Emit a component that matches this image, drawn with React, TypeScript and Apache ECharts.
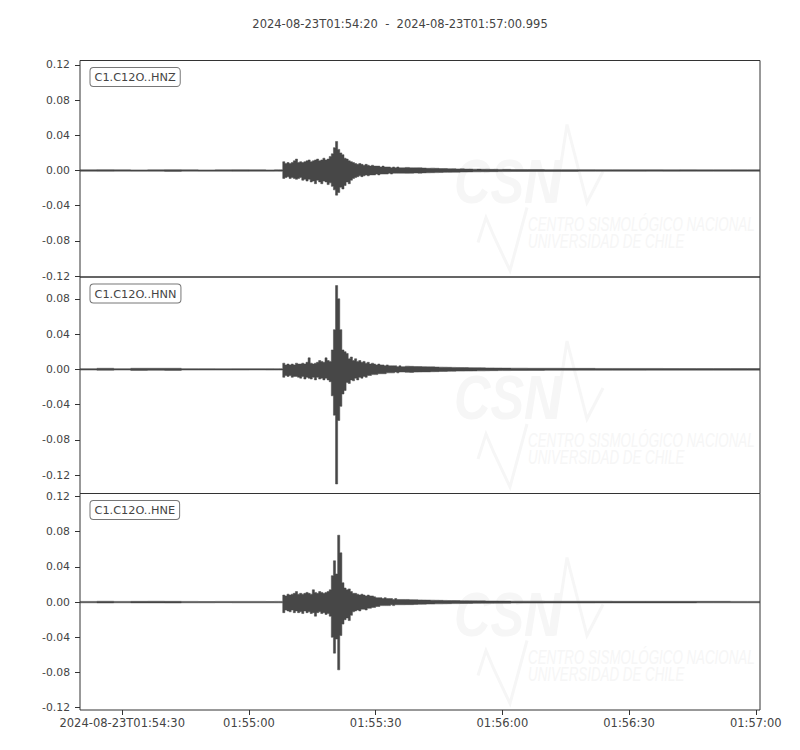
import React, { useEffect, useRef } from "react";
import * as echarts from "echarts";

// Time of each envelope bin, seconds after 2024-08-23T01:54:00
const TIME_S = [
  20, 24, 28, 32, 36, 40, 44, 48, 52, 56, 60, 64, 66, 67, 67.5,
  68, 68.5, 69, 69.5, 70, 70.5, 71, 71.5, 72, 72.5, 73, 73.5, 74, 74.5, 75, 75.5,
  76, 76.5, 77, 77.5, 78, 78.5, 79, 79.5, 80, 80.5, 81, 81.5, 82, 82.5, 83, 83.5,
  84, 84.5, 85, 85.5, 86, 86.5, 87, 87.5, 88, 88.5, 89, 89.5, 90, 90.5, 91, 91.5,
  92, 92.5, 93, 93.5, 94, 94.5, 95, 95.5, 96,
  97, 98, 99, 100, 101, 102, 103, 104, 105, 106, 107, 108, 109, 110, 111, 112,
  113, 114, 115, 116, 117, 118, 119, 120,
  122, 126, 130, 134, 138, 142, 146, 150, 154, 158, 162, 166, 170, 174, 178, 181,
];

// HNZ envelope (max / min per bin)
const HNZ_MAX = [
  0.0008, 0.001, 0.0008, 0.0007, 0.0008, 0.001, 0.0008, 0.0007, 0.0008, 0.0009, 0.0008, 0.0007, 0.0008, 0.0008, 0.0008,
  0.010, 0.008, 0.009, 0.008, 0.009, 0.011, 0.013, 0.009, 0.010, 0.009, 0.010, 0.011, 0.012, 0.010, 0.011, 0.012,
  0.013, 0.011, 0.012, 0.014, 0.012, 0.013, 0.016, 0.019, 0.026, 0.033, 0.024, 0.020, 0.018, 0.014, 0.013, 0.011,
  0.010, 0.009, 0.008, 0.007, 0.008, 0.007, 0.006, 0.007, 0.006, 0.005, 0.006, 0.005, 0.005, 0.005, 0.004, 0.005,
  0.004, 0.004, 0.004, 0.003, 0.004, 0.003, 0.004, 0.003, 0.003,
  0.0035, 0.003, 0.003, 0.0031, 0.0028, 0.0025, 0.0027, 0.0025, 0.0022, 0.0023, 0.002, 0.0021, 0.0018, 0.0019, 0.0016, 0.0017,
  0.0015, 0.0016, 0.0014, 0.0015, 0.0013, 0.0014, 0.0012, 0.0013,
  0.0011, 0.0011, 0.001, 0.001, 0.001, 0.0009, 0.0009, 0.0009, 0.0009, 0.0008, 0.0009, 0.0008, 0.0008, 0.0008, 0.0008, 0.0008,
];
const HNZ_MIN = [
  -0.0008, -0.0009, -0.0007, -0.0008, -0.0008, -0.001, -0.0007, -0.0008, -0.0008, -0.0009, -0.0008, -0.0008, -0.0007, -0.0008, -0.0008,
  -0.009, -0.008, -0.007, -0.009, -0.008, -0.009, -0.010, -0.009, -0.008, -0.011, -0.010, -0.012, -0.010, -0.013, -0.012, -0.015,
  -0.011, -0.013, -0.015, -0.012, -0.013, -0.016, -0.014, -0.018, -0.022, -0.028, -0.025, -0.019, -0.021, -0.017, -0.013, -0.015,
  -0.011, -0.009, -0.008, -0.007, -0.006, -0.007, -0.006, -0.005, -0.006, -0.005, -0.005, -0.005, -0.004, -0.005, -0.004, -0.004,
  -0.004, -0.004, -0.003, -0.004, -0.003, -0.003, -0.003, -0.003, -0.003,
  -0.0032, -0.0031, -0.0028, -0.003, -0.0027, -0.0026, -0.0025, -0.0024, -0.0023, -0.0021, -0.0021, -0.0019, -0.0019, -0.0017, -0.0017, -0.0016,
  -0.0015, -0.0015, -0.0014, -0.0014, -0.0013, -0.0013, -0.0012, -0.0012,
  -0.0011, -0.001, -0.001, -0.001, -0.0009, -0.0009, -0.0009, -0.0009, -0.0008, -0.0009, -0.0008, -0.0008, -0.0008, -0.0008, -0.0008, -0.0008,
];

// HNN envelope
const HNN_MAX = [
  0.0008, 0.0012, 0.0008, 0.0012, 0.0012, 0.0012, 0.0008, 0.0008, 0.0007, 0.0008, 0.0008, 0.0008, 0.0007, 0.0008, 0.0008,
  0.007, 0.005, 0.006, 0.005, 0.006, 0.005, 0.007, 0.006, 0.006, 0.007, 0.006, 0.008, 0.013, 0.007, 0.006, 0.007,
  0.008, 0.010, 0.009, 0.008, 0.013, 0.010, 0.009, 0.022, 0.045, 0.095, 0.080, 0.045, 0.022, 0.020, 0.018, 0.012,
  0.014, 0.010, 0.012, 0.009, 0.010, 0.008, 0.009, 0.007, 0.008, 0.006, 0.007, 0.006, 0.005, 0.006, 0.005, 0.005,
  0.004, 0.005, 0.004, 0.004, 0.004, 0.004, 0.003, 0.004, 0.003,
  0.0036, 0.0034, 0.0032, 0.0031, 0.003, 0.0028, 0.0028, 0.0026, 0.0025, 0.0024, 0.0023, 0.0022, 0.0021, 0.002, 0.002, 0.0019,
  0.0018, 0.0018, 0.0017, 0.0016, 0.0016, 0.0015, 0.0015, 0.0014,
  0.0013, 0.0012, 0.0012, 0.0011, 0.0011, 0.001, 0.001, 0.001, 0.001, 0.0009, 0.0009, 0.0009, 0.0009, 0.0009, 0.0009, 0.0009,
];
const HNN_MIN = [
  -0.0008, -0.0011, -0.0008, -0.0012, -0.0011, -0.0012, -0.0008, -0.0008, -0.0008, -0.0008, -0.0007, -0.0008, -0.0008, -0.0008, -0.0008,
  -0.009, -0.007, -0.008, -0.007, -0.009, -0.008, -0.008, -0.009, -0.010, -0.008, -0.011, -0.009, -0.010, -0.011, -0.009, -0.012,
  -0.009, -0.011, -0.010, -0.012, -0.010, -0.012, -0.014, -0.030, -0.052, -0.130, -0.058, -0.042, -0.028, -0.024, -0.015, -0.016,
  -0.012, -0.013, -0.010, -0.012, -0.009, -0.010, -0.008, -0.009, -0.007, -0.007, -0.006, -0.006, -0.006, -0.005, -0.005, -0.005,
  -0.005, -0.004, -0.004, -0.004, -0.004, -0.003, -0.004, -0.003, -0.003,
  -0.0034, -0.0035, -0.0031, -0.003, -0.0029, -0.0029, -0.0027, -0.0026, -0.0024, -0.0024, -0.0022, -0.0022, -0.002, -0.002, -0.0019, -0.0019,
  -0.0018, -0.0017, -0.0017, -0.0016, -0.0015, -0.0015, -0.0014, -0.0014,
  -0.0013, -0.0012, -0.0011, -0.0011, -0.001, -0.001, -0.001, -0.001, -0.0009, -0.0009, -0.0009, -0.0009, -0.0009, -0.0009, -0.0009, -0.0009,
];

// HNE envelope
const HNE_MAX = [
  0.0008, 0.001, 0.0008, 0.0009, 0.001, 0.0009, 0.0008, 0.0007, 0.0008, 0.0008, 0.0008, 0.0007, 0.0008, 0.0008, 0.0008,
  0.008, 0.007, 0.009, 0.008, 0.009, 0.010, 0.012, 0.009, 0.010, 0.009, 0.010, 0.011, 0.010, 0.009, 0.014, 0.011,
  0.010, 0.012, 0.011, 0.010, 0.011, 0.012, 0.014, 0.030, 0.047, 0.032, 0.076, 0.056, 0.022, 0.016, 0.014, 0.015,
  0.012, 0.010, 0.010, 0.009, 0.008, 0.009, 0.008, 0.007, 0.008, 0.007, 0.007, 0.006, 0.005, 0.005, 0.005, 0.004,
  0.005, 0.004, 0.004, 0.004, 0.003, 0.004, 0.003, 0.003, 0.003,
  0.003, 0.0028, 0.0027, 0.0025, 0.0024, 0.0023, 0.0022, 0.0021, 0.002, 0.0019, 0.0018, 0.0018, 0.0017, 0.0016, 0.0016, 0.0015,
  0.0015, 0.0014, 0.0014, 0.0013, 0.0013, 0.0013, 0.0012, 0.0012,
  0.0011, 0.0011, 0.001, 0.001, 0.001, 0.001, 0.0009, 0.0009, 0.0009, 0.0009, 0.0009, 0.0009, 0.0009, 0.0008, 0.0008, 0.0008,
];
const HNE_MIN = [
  -0.0008, -0.001, -0.0008, -0.0009, -0.0009, -0.001, -0.0008, -0.0008, -0.0007, -0.0008, -0.0008, -0.0008, -0.0008, -0.0008, -0.0008,
  -0.012, -0.009, -0.010, -0.011, -0.009, -0.012, -0.010, -0.012, -0.011, -0.013, -0.010, -0.012, -0.011, -0.013, -0.012, -0.016,
  -0.012, -0.011, -0.013, -0.012, -0.014, -0.013, -0.016, -0.040, -0.058, -0.042, -0.077, -0.038, -0.025, -0.020, -0.018, -0.021,
  -0.015, -0.011, -0.010, -0.009, -0.010, -0.008, -0.008, -0.009, -0.007, -0.007, -0.006, -0.006, -0.005, -0.005, -0.004, -0.004,
  -0.004, -0.004, -0.004, -0.003, -0.004, -0.003, -0.003, -0.003, -0.003,
  -0.0029, -0.0029, -0.0026, -0.0025, -0.0024, -0.0022, -0.0022, -0.002, -0.002, -0.0019, -0.0018, -0.0017, -0.0017, -0.0016, -0.0015, -0.0015,
  -0.0014, -0.0014, -0.0013, -0.0013, -0.0013, -0.0012, -0.0012, -0.0012,
  -0.0011, -0.0011, -0.001, -0.001, -0.001, -0.0009, -0.0009, -0.0009, -0.0009, -0.0009, -0.0009, -0.0008, -0.0008, -0.0008, -0.0008, -0.0008,
];

const CHANNELS = ["C1.C12O..HNZ", "C1.C12O..HNN", "C1.C12O..HNE"];
const TITLE = "2024-08-23T01:54:20  -  2024-08-23T01:57:00.995";

const X_MIN = 20;
const X_MAX = 180.995;
const X_TICKS = [30, 60, 90, 120, 150, 180];
const X_TICK_LABELS = ["2024-08-23T01:54:30", "01:55:00", "01:55:30", "01:56:00", "01:56:30", "01:57:00"];

const Y_LIMITS = [
  [-0.121, 0.125],
  [-0.1408, 0.1047],
  [-0.1226, 0.1234],
];
const Y_TICKS = [
  [-0.12, -0.08, -0.04, 0, 0.04, 0.08, 0.12],
  [-0.12, -0.08, -0.04, 0, 0.04, 0.08],
  [-0.12, -0.08, -0.04, 0, 0.04, 0.08, 0.12],
];

const PANEL_TOP = [60.5, 277, 493.5];
const PANEL_H = 216.5;
const LEFT = 80;
const RIGHT = 40;

const TEXT = "#444444";
const SPINE = "#333333";
const WAVE = "#474747";
const WM = "#f6f6f6";
const FONT = "'DejaVu Sans', sans-serif";
const WM_FONT = "'Liberation Sans', Arial, sans-serif";

function watermark(top: number) {
  return {
    type: "group",
    x: 0,
    y: top,
    silent: true,
    z: 0,
    children: [
      {
        type: "text",
        z: 0,
        x: 454,
        y: 120,
        scaleX: 0.8,
        style: {
          text: "CSN",
          x: 0,
          y: 0,
          verticalAlign: "middle",
          font: `italic bold 63px ${WM_FONT}`,
          fill: WM,
        },
      },
      {
        type: "polyline",
        z: 0,
        shape: { points: [[555, 142], [567, 64], [587, 142], [603, 111]] },
        style: { stroke: WM, lineWidth: 3, fill: "none" },
      },
      {
        type: "polyline",
        z: 0,
        shape: { points: [[478, 182], [486, 157], [494, 176], [510, 210], [527, 147]] },
        style: { stroke: WM, lineWidth: 3, fill: "none" },
      },
      {
        type: "text",
        z: 0,
        x: 528,
        y: 164,
        scaleX: 0.667,
        style: {
          text: "CENTRO SISMOLÓGICO NACIONAL",
          x: 0,
          y: 0,
          verticalAlign: "middle",
          font: `italic 20px ${WM_FONT}`,
          fill: WM,
        },
      },
      {
        type: "text",
        z: 0,
        x: 528,
        y: 181,
        scaleX: 0.667,
        style: {
          text: "UNIVERSIDAD DE CHILE",
          x: 0,
          y: 0,
          verticalAlign: "middle",
          font: `italic 20px ${WM_FONT}`,
          fill: WM,
        },
      },
    ],
  };
}

function labelBox(top: number, text: string) {
  return {
    type: "text",
    z: 20,
    silent: true,
    style: {
      text,
      x: 90.5,
      y: top + 7.5,
      font: `11.3px ${FONT}`,
      fill: TEXT,
      backgroundColor: "#ffffff",
      borderColor: "#777777",
      borderWidth: 1,
      borderRadius: 3,
      padding: [3, 4, 2, 4],
      lineHeight: 13,
    },
  };
}

export default function App() {
  const ref = useRef<HTMLDivElement>(null);

  useEffect(() => {
    if (!ref.current) return;
    const chart = echarts.init(ref.current, undefined, { renderer: "svg" });

    const envelopes = [
      [HNZ_MAX, HNZ_MIN],
      [HNN_MAX, HNN_MIN],
      [HNE_MAX, HNE_MIN],
    ];

    const grids = PANEL_TOP.map((top) => ({
      left: LEFT,
      right: RIGHT,
      top,
      height: PANEL_H,
      show: true,
      borderColor: SPINE,
      borderWidth: 1,
      backgroundColor: "transparent",
      containLabel: false,
    }));

    const xAxes = PANEL_TOP.map((_, i) => {
      const last = i === PANEL_TOP.length - 1;
      return {
        type: "value",
        gridIndex: i,
        min: X_MIN,
        max: X_MAX,
        position: "bottom",
        axisLine: { show: false, onZero: false },
        splitLine: { show: false },
        axisTick: {
          show: last,
          customValues: X_TICKS,
          length: 5,
          lineStyle: { color: SPINE, width: 1 },
        },
        axisLabel: {
          show: last,
          customValues: X_TICKS,
          formatter: (v: number) => {
            const k = X_TICKS.indexOf(v);
            return k >= 0 ? X_TICK_LABELS[k] : "";
          },
          color: TEXT,
          fontSize: 11.5,
          fontFamily: FONT,
          margin: 7,
        },
      };
    });

    const yAxes = PANEL_TOP.map((_, i) => ({
      type: "value",
      gridIndex: i,
      min: Y_LIMITS[i][0],
      max: Y_LIMITS[i][1],
      position: "left",
      axisLine: { show: false, onZero: false },
      splitLine: { show: false },
      axisTick: {
        show: true,
        customValues: Y_TICKS[i],
        length: 5,
        lineStyle: { color: SPINE, width: 1 },
      },
      axisLabel: {
        show: true,
        customValues: Y_TICKS[i],
        formatter: (v: number) => v.toFixed(2),
        color: TEXT,
        fontSize: 10.8,
        fontFamily: FONT,
        margin: 10,
      },
    }));

    // The min/max envelope of each trace as one stepped polygon, placed through the axes' scales
    const series = envelopes.map(([mx, mn], i) => ({
      type: "custom",
      name: CHANNELS[i],
      xAxisIndex: i,
      yAxisIndex: i,
      clip: true,
      silent: true,
      z: 5,
      encode: { x: 0, y: 1 },
      data: [[X_MIN, 0]],
      renderItem: (params: any, api: any) => {
        const n = TIME_S.length;
        const upper: number[][] = [];
        const lower: number[][] = [];
        for (let k = 0; k < n; k++) {
          const t0 = TIME_S[k];
          const t1 = k < n - 1 ? TIME_S[k + 1] : X_MAX;
          upper.push(api.coord([t0, mx[k]]));
          upper.push(api.coord([t1, mx[k]]));
          lower.push(api.coord([t0, mn[k]]));
          lower.push(api.coord([t1, mn[k]]));
        }
        const points = upper.concat(lower.reverse());
        return {
          type: "polygon",
          shape: { points },
          style: { fill: WAVE, stroke: WAVE, lineWidth: 0.5, lineJoin: "miter" },
        };
      },
    }));

    const graphics: any[] = [];
    PANEL_TOP.forEach((top) => graphics.push(watermark(top)));
    PANEL_TOP.forEach((top, i) => graphics.push(labelBox(top, CHANNELS[i])));

    chart.setOption({
      animation: false,
      backgroundColor: "#ffffff",
      title: {
        text: TITLE,
        left: "center",
        top: 13,
        textStyle: {
          color: TEXT,
          fontSize: 11.5,
          fontWeight: "normal",
          fontFamily: FONT,
        },
      },
      grid: grids,
      xAxis: xAxes,
      yAxis: yAxes,
      series,
      graphic: graphics,
    });

    return () => chart.dispose();
  }, []);

  return (
    <div
      ref={ref}
      style={{ position: "fixed", left: 0, top: 0, width: 800, height: 750 }}
    />
  );
}
